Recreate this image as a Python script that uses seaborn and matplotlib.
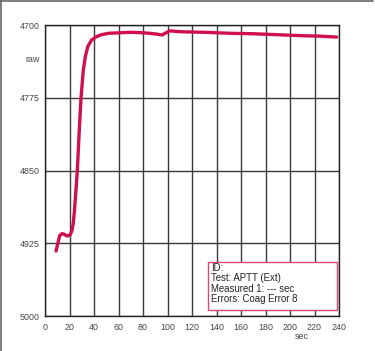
import seaborn as sns
import matplotlib.pyplot as plt
import pandas as pd
from matplotlib.patches import Rectangle
from matplotlib.lines import Line2D

sns.set_theme(style="white")
plt.rcParams['font.family'] = ['Liberation Sans', 'DejaVu Sans']

# values
sec = [9, 10.5, 12, 14, 16, 18, 20.5, 22, 23, 24, 25, 26.4, 28, 29.4, 31.3,
       33, 35, 38, 42, 46, 52, 61, 70, 80, 86, 92, 95.5, 98, 102, 106, 113,
       130, 151, 170, 190, 210, 225, 238]
raw = [4933, 4925, 4917, 4915, 4916, 4917.5, 4916.5, 4912, 4905, 4892, 4875,
       4850, 4808, 4775, 4746, 4732, 4722, 4715.5, 4712, 4710, 4708.5, 4708,
       4707.5, 4708, 4708.6, 4709.5, 4710.3, 4708.5, 4706, 4706.5, 4707,
       4707.5, 4708.5, 4709, 4710, 4711, 4711.5, 4712.4]
x_ticks = list(range(0, 241, 20))
y_ticks = [4700, 4775, 4850, 4925, 5000]
info = ["ID:", "Test: APTT (Ext)", "Measured 1: --- sec", "Errors: Coag Error 8"]

df = pd.DataFrame({'sec': sec, 'raw': raw})

fig = plt.figure(figsize=(3.75, 3.51), dpi=100)
ax = fig.add_axes([0.12, 0.0997, 0.784, 0.829])

sns.lineplot(data=df, x='sec', y='raw', ax=ax, color='#d0104c', linewidth=2.4,
             zorder=3)

ax.set_xlim(0, 240)
ax.set_ylim(5000, 4700)
ax.set_xticks(x_ticks)
ax.set_yticks(y_ticks)
ax.grid(True, color='#3a3a3a', linewidth=1.0)
for s in ax.spines.values():
    s.set_color('#222222')
    s.set_linewidth(1.0)
ax.tick_params(axis='y', length=3, width=1.0, color='#222222', pad=1,
               labelsize=6.4, labelcolor='#444444')
ax.tick_params(axis='x', length=0, pad=5, labelsize=6.4, labelcolor='#444444')
ax.set_xlabel('')
ax.set_ylabel('')
ax.text(-4.5, 4736, 'raw', ha='right', va='center', fontsize=6.4,
        color='#444444')
ax.text(209.5, 5021.5, 'sec', ha='center', va='center', fontsize=6.4,
        color='#444444', clip_on=False)

# info box
ax.add_patch(Rectangle((132.8, 4944.6), 105.8, 49.2, facecolor='white',
                       edgecolor='#d8487a', linewidth=1.0, zorder=4))
for i, line in enumerate(info):
    ax.text(135.5, 4950.5 + i * 10.8, line, ha='left', va='center',
            fontsize=6.9, color='#222222', zorder=5)

# grey frame along top and left edge
fig.add_artist(Line2D([0, 0.995], [0.997, 0.997], color='#666666',
                      linewidth=1.2, transform=fig.transFigure))
fig.add_artist(Line2D([0.003, 0.003], [0, 1], color='#666666',
                      linewidth=1.2, transform=fig.transFigure))

plt.savefig('out.png', dpi=100)
plt.close()
